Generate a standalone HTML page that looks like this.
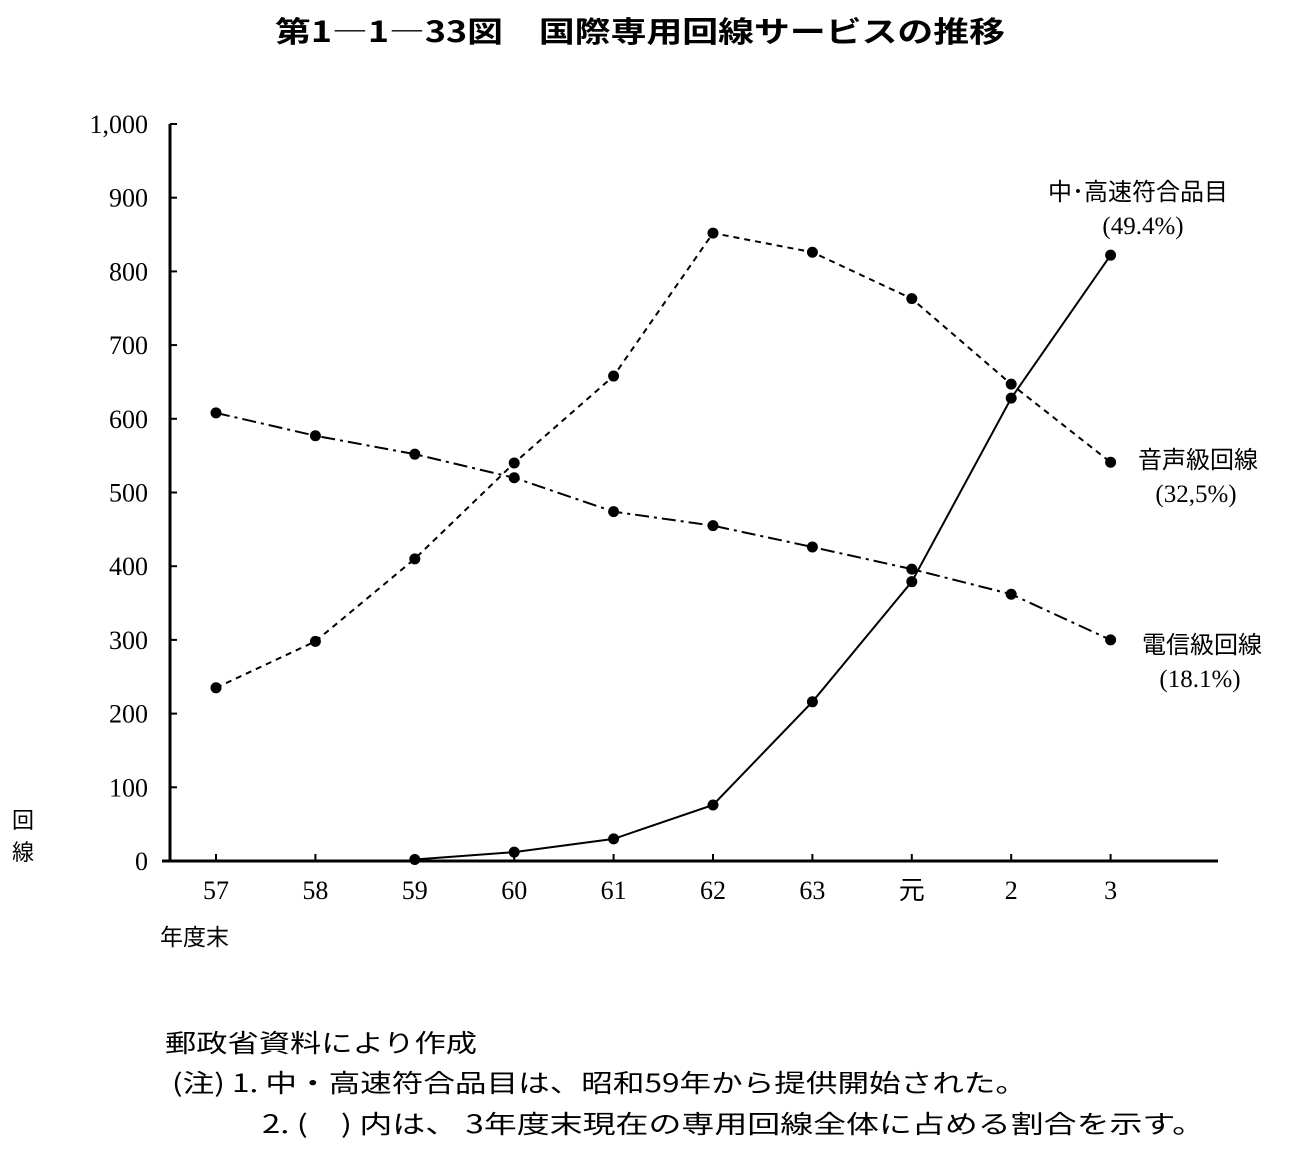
<!DOCTYPE html>
<html><head><meta charset="utf-8"><style>
body{margin:0;background:#fff;width:1301px;height:1163px;overflow:hidden}
svg text{font-family:"Liberation Serif","Noto Serif CJK SC","Noto Sans CJK JP",serif;fill:#000}
.cjk{font-family:"Noto Sans CJK JP","Liberation Sans",sans-serif}
</style></head><body>
<svg width="1301" height="1163">
<text x="275" y="42" textLength="730" lengthAdjust="spacingAndGlyphs" font-size="29" font-weight="bold" class="cjk">第1―1―33図　国際専用回線サービスの推移</text>
<g id="axes"></g>
<g id="series"></g>
<text x="160" y="945" font-size="23" class="cjk">年度末</text>
<text x="12" y="828" font-size="22" class="cjk">回</text>
<text x="12" y="860" font-size="22" class="cjk">線</text>
<text x="1138" y="200" text-anchor="middle" font-size="24" class="cjk">中･高速符合品目</text>
<text x="1143" y="234" text-anchor="middle" font-size="25">(49.4%)</text>
<text x="1198" y="468" text-anchor="middle" font-size="24" class="cjk">音声級回線</text>
<text x="1196" y="502" text-anchor="middle" font-size="25">(32,5%)</text>
<text x="1202" y="653" text-anchor="middle" font-size="24" class="cjk">電信級回線</text>
<text x="1200" y="687" text-anchor="middle" font-size="25">(18.1%)</text>
<text x="165" y="1052" textLength="312" lengthAdjust="spacingAndGlyphs" font-size="25" class="cjk">郵政省資料により作成</text>
<text x="172" y="1092" textLength="855" lengthAdjust="spacingAndGlyphs" font-size="25" class="cjk">(注)  1. 中・高速符合品目は、昭和59年から提供開始された。</text>
<text x="262" y="1133" textLength="943" lengthAdjust="spacingAndGlyphs" font-size="25" class="cjk">2. (　) 内は、 3年度末現在の専用回線全体に占める割合を示す。</text>
</svg>
<script>
const categories=["57","58","59","60","61","62","63","元","2","3"];
const yTicks=[0,100,200,300,400,500,600,700,800,900,1000];
const yTickLabels=["0","100","200","300","400","500","600","700","800","900","1,000"];
const voice=[235,298,410,540,658,852,826,763,647,541];
const telegraph=[608,577,552,520,474,455,426,396,362,300];
const fast=[null,null,2,12,30,76,216,379,628,822];
const NS="http://www.w3.org/2000/svg";
const X=i=>216+i*99.4, Y=v=>861-v*0.737;
function mk(t,a,p){const e=document.createElementNS(NS,t);for(const k in a)e.setAttribute(k,a[k]);p.appendChild(e);return e;}
const ax=document.getElementById('axes'), se=document.getElementById('series');
let l=mk('line',{x1:170,y1:Y(1000),x2:170,y2:861,stroke:'#000','stroke-width':3},ax);

l=mk('line',{x1:162,y1:861,x2:1218,y2:861,stroke:'#000','stroke-width':3},ax);

yTicks.forEach((v,i)=>{
 mk('line',{x1:170,y1:Y(v),x2:177,y2:Y(v),stroke:'#000','stroke-width':2},ax);
 const t=mk('text',{x:148,y:Y(v)+9,'text-anchor':'end','font-size':26},ax);t.textContent=yTickLabels[i];
 
});
categories.forEach((c,i)=>{
 mk('line',{x1:X(i),y1:861,x2:X(i),y2:854,stroke:'#000','stroke-width':2},ax);
 const t=mk('text',{x:X(i),y:899,'text-anchor':'middle','font-size':26},ax);t.textContent=c;
 if(c==='元')t.setAttribute('class','cjk');
 
});
function series(d,dash,name){
 const pts=[];d.forEach((v,i)=>{if(v!==null)pts.push([X(i),Y(v)]);});
 const p=mk('polyline',{points:pts.map(q=>q.join(',')).join(' '),fill:'none',stroke:'#000','stroke-width':2,'stroke-dasharray':dash},se);
 
 pts.forEach(q=>{const c=mk('circle',{cx:q[0],cy:q[1],r:5.5,fill:'#000'},se);
  });
}
series(voice,'6,5','voice');
series(telegraph,'14,5,3,5','telegraph');
series(fast,'','fast');
</script>
</body></html>
